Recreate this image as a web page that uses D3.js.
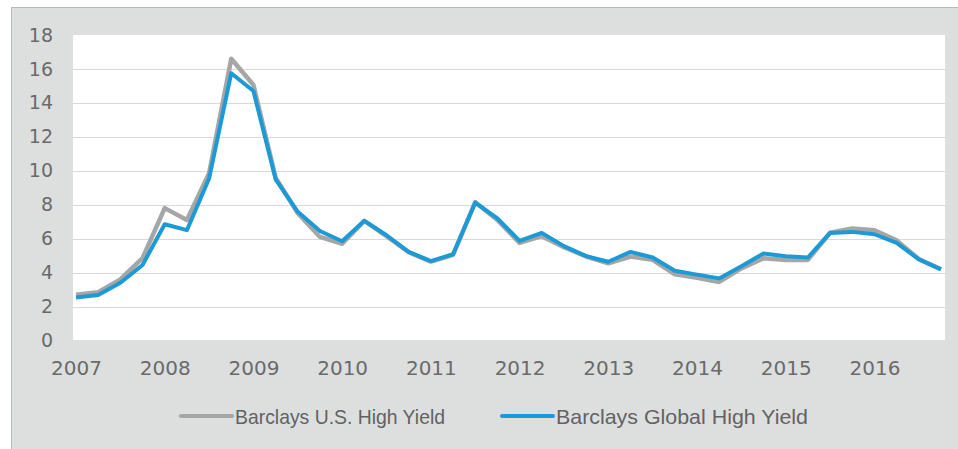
<!DOCTYPE html>
<html>
<head>
<meta charset="utf-8">
<script src="https://cdn.jsdelivr.net/npm/d3@7"></script>
<style>
  body { margin: 0; background: #fff; }
</style>
</head>
<body>
<script>
// quarterly points, 2007 Q1 .. 2016 Q4
const years = ["2007", "2008", "2009", "2010", "2011", "2012", "2013", "2014", "2015", "2016"];
const quarters = d3.range(40);

const usHighYield = [2.7, 2.85, 3.6, 4.85, 7.8, 7.1, 9.85, 16.6, 15.05, 9.6,
    7.5, 6.1, 5.7, 7.05, 6.15, 5.2, 4.65, 5.05, 8.15, 7.1,
    5.75, 6.15, 5.5, 4.95, 4.55, 4.95, 4.75, 3.9, 3.7, 3.45,
    4.25, 4.85, 4.75, 4.75, 6.35, 6.6, 6.5, 5.9, 4.8, 4.2];

const globalHighYield = [2.54, 2.68, 3.4, 4.45, 6.85, 6.5, 9.54, 15.75, 14.7, 9.5,
    7.58, 6.45, 5.85, 7.05, 6.2, 5.22, 4.68, 5.08, 8.12, 7.19,
    5.87, 6.34, 5.56, 4.97, 4.64, 5.22, 4.89, 4.11, 3.88, 3.66,
    4.38, 5.13, 4.97, 4.89, 6.34, 6.4, 6.26, 5.75, 4.78, 4.19];

const yTicks = [0, 2, 4, 6, 8, 10, 12, 14, 16, 18];

const seriesNames = ["Barclays U.S. High Yield", "Barclays Global High Yield"];
const seriesColors = ["#a6a6a6", "#1b9ad6"];

const width = 958, height = 449;
const plot = { left: 73, right: 945, top: 35, bottom: 340 };

const svg = d3.select("body").append("svg")
    .attr("width", width)
    .attr("height", height);

// frame
svg.append("rect")
    .attr("x", 11).attr("y", 7)
    .attr("width", width - 11).attr("height", height - 7)
    .attr("fill", "#dddfdf");
svg.append("path")
    .attr("d", `M11.5 ${height} V7.5 H${width}`)
    .attr("fill", "none")
    .attr("stroke", "#b9bbbb")
    .attr("stroke-width", 1);

// plot area
svg.append("rect")
    .attr("x", plot.left).attr("y", plot.top)
    .attr("width", plot.right - plot.left).attr("height", plot.bottom - plot.top)
    .attr("fill", "#fff");

const x = d3.scalePoint()
    .domain(quarters)
    .range([76, 941]);

const y = d3.scaleLinear()
    .domain([0, 18])
    .range([plot.bottom + 0.5, plot.top]);

// grid
svg.append("g")
    .selectAll("line")
    .data(yTicks.filter(d => d > 0 && d < 18))
    .join("line")
    .attr("x1", plot.left).attr("x2", plot.right)
    .attr("y1", d => Math.round(y(d)) + 0.5)
    .attr("y2", d => Math.round(y(d)) + 0.5)
    .attr("stroke", "#d9d9d9")
    .attr("stroke-width", 1);

// y axis
const yAxis = svg.append("g")
    .attr("transform", `translate(${plot.left},0)`)
    .call(d3.axisLeft(y).tickValues(yTicks).tickSize(0).tickPadding(20));
yAxis.select(".domain").remove();
yAxis.selectAll("text")
    .attr("font-family", "DejaVu Sans, sans-serif")
    .attr("font-size", 19)
    .attr("fill", "#6a6a6a");

// x axis (a label every fourth quarter)
const xAxis = svg.append("g")
    .attr("transform", `translate(0,${plot.bottom})`)
    .call(d3.axisBottom(x)
        .tickValues(quarters.filter(q => q % 4 === 0))
        .tickFormat(q => years[q / 4])
        .tickSize(0)
        .tickPadding(21));
xAxis.select(".domain").remove();
xAxis.selectAll("text")
    .attr("font-family", "DejaVu Sans, sans-serif")
    .attr("font-size", 20)
    .attr("fill", "#6a6a6a");

// lines
const line = d3.line()
    .x((d, i) => x(i))
    .y(d => y(d));

[usHighYield, globalHighYield].forEach((s, k) => {
    svg.append("path")
        .datum(s)
        .attr("d", line)
        .attr("fill", "none")
        .attr("stroke", seriesColors[k])
        .attr("stroke-width", k === 0 ? 4.5 : 4)
        .attr("stroke-linejoin", "round");
});

// legend
const legendY = 416;
const legendItems = [
    { x: 181, textX: 235, textW: 210 },
    { x: 502, textX: 556, textW: 252 }
];
legendItems.forEach((it, k) => {
    svg.append("line")
        .attr("x1", it.x).attr("x2", it.x + 51)
        .attr("y1", legendY).attr("y2", legendY)
        .attr("stroke", seriesColors[k])
        .attr("stroke-width", 4)
        .attr("stroke-linecap", "round");
    svg.append("text")
        .attr("x", it.textX).attr("y", legendY)
        .attr("dy", "0.36em")
        .attr("font-family", "Liberation Sans Narrow, Arial Narrow, Liberation Sans, sans-serif")
        .attr("font-size", 21)
        .attr("fill", "#626262")
        .attr("textLength", it.textW)
        .attr("lengthAdjust", "spacingAndGlyphs")
        .text(seriesNames[k]);
});
</script>
</body>
</html>
